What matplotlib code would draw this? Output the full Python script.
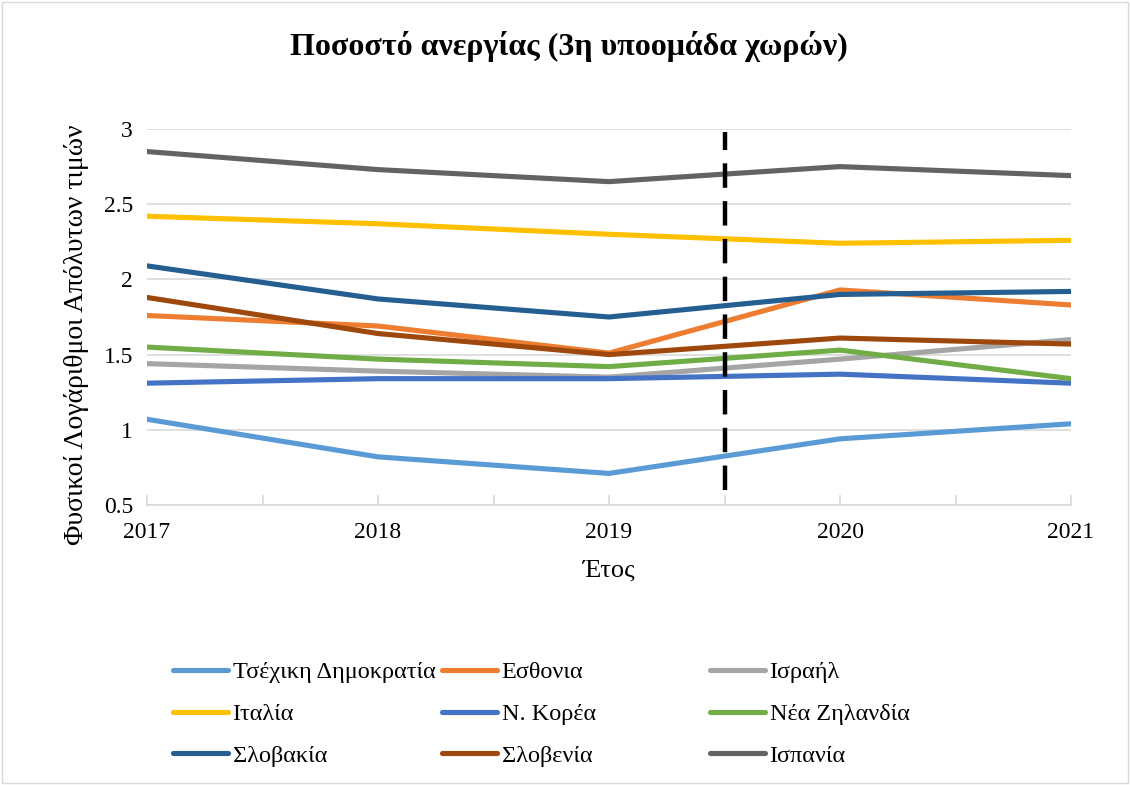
import matplotlib
matplotlib.use("Agg")
import matplotlib.pyplot as plt
from matplotlib.patches import Rectangle

years = [2017, 2018, 2019, 2020, 2021]

countries = ["Τσέχικη Δημοκρατία", "Εσθονια", "Ισραήλ",
             "Ιταλία", "Ν. Κορέα", "Νέα Ζηλανδία",
             "Σλοβακία", "Σλοβενία", "Ισπανία"]

czech = [1.07, 0.82, 0.71, 0.94, 1.04]
estonia = [1.76, 1.69, 1.51, 1.93, 1.83]
israel = [1.44, 1.39, 1.35, 1.47, 1.60]
italy = [2.42, 2.37, 2.30, 2.24, 2.26]
korea = [1.31, 1.34, 1.34, 1.37, 1.31]
new_zealand = [1.55, 1.47, 1.42, 1.53, 1.34]
slovakia = [2.09, 1.87, 1.75, 1.90, 1.92]
slovenia = [1.88, 1.64, 1.50, 1.61, 1.57]
spain = [2.85, 2.73, 2.65, 2.75, 2.69]

series = [czech, estonia, israel, italy, korea, new_zealand,
          slovakia, slovenia, spain]
colors = ["#5B9BD5", "#ED7D31", "#A5A5A5", "#FFC000", "#4472C4",
          "#70AD47", "#255E91", "#9E480E", "#636363"]

y_ticks = [0.5, 1, 1.5, 2, 2.5, 3]
y_tick_labels = ["0.5", "1", "1.5", "2", "2.5", "3"]
split_year = 2019.5

plt.rcParams["font.family"] = ["Liberation Serif", "DejaVu Serif"]

W, H = 1130, 785
fig = plt.figure(figsize=(W / 100, H / 100), dpi=100)
fig.patches.append(Rectangle((0.002, 0.002), 0.996, 0.996, transform=fig.transFigure,
                             fill=False, edgecolor="#D9D9D9", linewidth=1.0))
ax = fig.add_axes([147 / W, 1 - 505 / H, (1071 - 147) / W, (505 - 129) / H])

lines = []
for vals, col, name in zip(series, colors, countries):
    ln, = ax.plot(years, vals, color=col, linewidth=3.7, label=name,
                  solid_capstyle="round", solid_joinstyle="round")
    lines.append(ln)

ax.plot([split_year, split_year], [0.6, 2.98], color="black", linewidth=3.2,
        linestyle=(0, (5.5, 3)), zorder=5)

ax.set_xlim(2017, 2021)
ax.set_ylim(0.5, 3)
ax.set_yticks(y_ticks)
ax.set_yticklabels(y_tick_labels)
ax.set_xticks(years)
ax.set_xticklabels([str(y) for y in years])
ax.set_xticks([2017.5, 2018.5, 2019.5, 2020.5], minor=True)
ax.grid(axis="y", color="#D9D9D9", linewidth=1.2)
ax.set_axisbelow(True)
for side in ["left", "right", "top"]:
    ax.spines[side].set_visible(False)
ax.spines["bottom"].set_color("#D9D9D9")
ax.spines["bottom"].set_linewidth(1.2)
ax.tick_params(axis="y", length=0, pad=10, labelsize=17)
ax.tick_params(axis="x", which="both", direction="in", length=7, color="#D9D9D9",
               width=1.2, pad=12, labelsize=17)

ax.set_xlabel("Έτος", fontsize=19, labelpad=12)
ax.set_ylabel("Φυσικοί Λογάριθμοι Απόλυτων τιμών", fontsize=20)
ax.yaxis.set_label_coords(-58 / (1071 - 147), 1 - (335 - 129) / (505 - 129))
fig.text(0.503, 1 - 47 / H, "Ποσοστό ανεργίας (3η υποομάδα χωρών)",
         ha="center", va="center", fontsize=23, fontweight="bold")

# Legend laid out row by row in three equal-width columns
col_x = [173, 442, 710]
for c, x0 in enumerate(col_x):
    idx = [c, c + 3, c + 6]
    fig.legend([lines[i] for i in idx], [countries[i] for i in idx],
               loc="center left", bbox_to_anchor=(x0 / W, 1 - 714 / H),
               frameon=False, fontsize=17.5, handlelength=2.25,
               handletextpad=0.2, labelspacing=0.82,
               borderpad=0, borderaxespad=0)

fig.savefig("out.png", dpi=100)
